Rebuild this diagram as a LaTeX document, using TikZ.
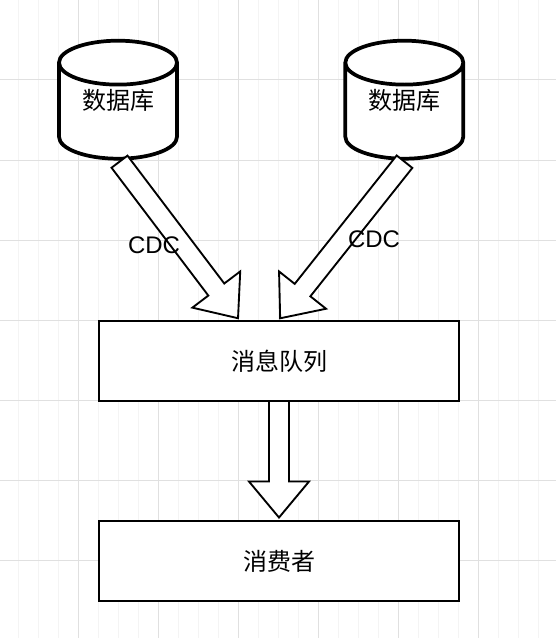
\documentclass[tikz,border=0pt]{standalone}
\usepackage{xcolor}
\usepackage{fontspec}
\setmainfont{Liberation Sans}
\newfontfamily\cjk{Noto Sans CJK SC}
\usetikzlibrary{positioning, calc, shapes.geometric}
\definecolor{GridMajor}{RGB}{224, 224, 224}
\definecolor{GridMinor}{RGB}{244, 244, 244}
\tikzset{
  dbnode/.style={cylinder, shape border rotate=90, aspect=0.61, draw=black, fill=white, line width=2.8pt,
                 minimum width=88.5pt, minimum height=88.5pt, outer sep=0pt, inner sep=0pt, anchor=shape center,
                 font=\cjk\fontsize{18}{22}\selectfont},
  dbtext/.style={inner sep=0pt, font=\cjk\fontsize{18}{22}\selectfont},
  boxnode/.style={draw=black, fill=white, line width=1.5pt, minimum width=270pt, minimum height=60pt,
                  outer sep=0pt, font=\cjk\fontsize{18}{22}\selectfont},
  cdclabel/.style={inner sep=0pt, font=\fontsize{18}{22}\selectfont},
  hollowarrow/.style={draw=black, fill=white, line width=1.4pt, line join=miter}
}
\newcommand{\blockarrow}[2]{
  \coordinate (tipend) at ($(#2)!2.6pt!(#1)$);
  \coordinate (neck) at ($(tipend)!27pt!(#1)$);
  \draw[hollowarrow] ($(#1)!7.5pt!90:(tipend)$) -- ($(neck)!7.5pt!90:(tipend)$) -- ($(neck)!22.5pt!90:(tipend)$)
    -- (tipend) -- ($(neck)!22.5pt!-90:(tipend)$) -- ($(neck)!7.5pt!-90:(tipend)$) -- ($(#1)!7.5pt!-90:(tipend)$) -- cycle;
}
\begin{document}
\begin{tikzpicture}[x=0.75pt, y=-0.75pt]
  \useasboundingbox (0,0) rectangle (556,638);
  \foreach \x in {18,38,...,558} \draw[GridMinor, line width=0.75pt] (\x,0) -- (\x,638);
  \foreach \x in {78,158,...,558} \draw[GridMajor, line width=0.75pt] (\x,0) -- (\x,638);
  \foreach \y in {80,160,...,560} \draw[GridMajor, line width=0.75pt] (0,\y) -- (556,\y);

  \node[dbnode] (dbL) at (118,99.7) {\phantom{数据库}};
  \node[dbnode] (dbR) at (404.3,99.7) {\phantom{数据库}};
  \node[dbtext, yshift=-0.75pt] (dbLtext) at (dbL.shape center) {数据库};
  \node[dbtext, yshift=-0.75pt] (dbRtext) at (dbR.shape center) {数据库};
  \node[boxnode] (queue) at (279,361) {消息队列};
  \node[boxnode, below=90pt of queue] (consumer) {消费者};
  \coordinate (tailL) at ($(dbL.south)+(1.5,3)$);
  \coordinate (tailR) at ($(dbR.south)+(0.2,3)$);
  \coordinate (tipL) at ($(queue.north west)!.392!(queue.north east)$);
  \coordinate (tipR) at ($(queue.north)+(-1,0)$);

  \blockarrow{tailL}{tipL}
  \blockarrow{tailR}{tipR}
  \blockarrow{queue.south}{consumer.north}

  \node[cdclabel] (cdcL) at (154,245) {CDC};
  \node[cdclabel] (cdcR) at (374,239) {CDC};
\end{tikzpicture}
\end{document}
